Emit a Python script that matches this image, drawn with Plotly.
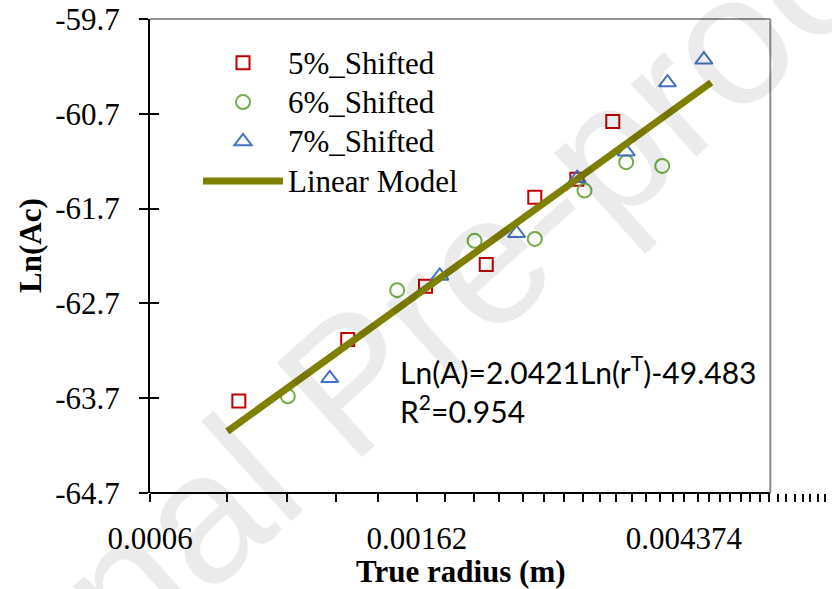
import math
import plotly.graph_objects as go

# ---- data ----
x_5 = [0.000835, 0.001252, 0.001672, 0.002096, 0.002511, 0.002936, 0.003356]
y_5 = [-63.73, -63.08, -62.52, -62.29, -61.58, -61.39, -60.78]

x_6 = [0.001002, 0.001505, 0.002007, 0.002511, 0.003021, 0.003528, 0.004034]
y_6 = [-63.68, -62.56, -62.04, -62.02, -61.51, -61.21, -61.25]

x_7 = [0.001171, 0.001763, 0.002346, 0.002940, 0.003528, 0.004114, 0.004710]
y_7 = [-63.49, -62.41, -61.96, -61.38, -61.10, -60.37, -60.13]

x_fit = [0.0008, 0.00484]
y_fit = [-64.05, -60.37]

x_tickvals = [0.0006, 0.00162, 0.004374]
x_ticktext = ["0.0006", "0.00162", "0.004374"]
y_tickvals = [-64.7, -63.7, -62.7, -61.7, -60.7, -59.7]
y_ticktext = ["-64.7", "-63.7", "-62.7", "-61.7", "-60.7", "-59.7"]

x_min, x_border, x_max = 0.0006, 0.00603, 0.007586
y_min, y_max = -64.7, -59.7

minor_vals = [round(0.0008 + 0.0002 * k, 6) for k in range(0, 34)]
minor_vals = [v for v in minor_vals if v < x_max and abs(v - 0.00162) > 0.00005 and abs(v - 0.004374) > 0.00005]

W, H = 832, 589
ML, MR, MT, MB = 150, 0, 19, 96
PW, PH = W - ML - MR, H - MT - MB

def px_to_paper_x(px):
    return (px - ML) / PW

def px_to_paper_y(py):
    return (H - MB - py) / PH

lx0, lx1 = math.log10(x_min), math.log10(x_max)
border_frac = (math.log10(x_border) - lx0) / (lx1 - lx0)

serif = "Liberation Serif"

def leg(name):
    return '<span style="font-size:31px">' + name + '</span>'

fig = go.Figure()
fig.add_trace(go.Scatter(
    x=x_5, y=y_5, mode="markers", name=leg("5%_Shifted"),
    marker=dict(symbol="square-open", size=13, color="#C00000", line=dict(width=2, color="#C00000")),
))
fig.add_trace(go.Scatter(
    x=x_6, y=y_6, mode="markers", name=leg("6%_Shifted"),
    marker=dict(symbol="circle-open", size=14, color="#70AD47", line=dict(width=2, color="#70AD47")),
))
fig.add_trace(go.Scatter(
    x=x_7, y=y_7, mode="markers", name=leg("7%_Shifted"),
    marker=dict(symbol="triangle-up-open", size=15, color="#4472C4", line=dict(width=2, color="#4472C4")),
))
fig.add_trace(go.Scatter(
    x=x_fit, y=y_fit, mode="lines", name=leg("Linear Model"),
    line=dict(color="#7F7F00", width=7),
))
fig.add_trace(go.Scatter(x=[], y=[], yaxis="y2", showlegend=False, hoverinfo="skip"))

fig.update_layout(
    width=W, height=H,
    margin=dict(l=ML, r=MR, t=MT, b=MB),
    paper_bgcolor="white", plot_bgcolor="white",
    font=dict(family=serif, size=31, color="black"),
    showlegend=True,
    legend=dict(
        x=px_to_paper_x(198), y=px_to_paper_y(38), xanchor="left", yanchor="top",
        bgcolor="rgba(0,0,0,0)", font=dict(family=serif, size=28, color="black"),
        itemwidth=80, tracegroupgap=0,
    ),
    xaxis=dict(
        type="log", range=[lx0, lx1],
        tickmode="array", tickvals=x_tickvals, ticktext=x_ticktext,
        ticks="outside", ticklen=8, tickwidth=2, tickcolor="black",
        minor=dict(tickvals=minor_vals, ticks="outside", ticklen=8, tickwidth=1.5, tickcolor="black", showgrid=False),
        showgrid=False, zeroline=False, showline=False,
        tickfont=dict(family=serif, size=31, color="black"),
        ticklabelstandoff=10,
    ),
    yaxis=dict(
        range=[y_min, y_max],
        tickmode="array", tickvals=y_tickvals, ticktext=y_ticktext,
        ticks="outside", ticklen=9, tickwidth=2, tickcolor="black",
        showgrid=False, zeroline=False, showline=True, linecolor="black", linewidth=2,
        tickfont=dict(family=serif, size=31, color="black"),
        ticklabelstandoff=13,
    ),
    yaxis2=dict(
        range=[y_min, y_max], overlaying="y", side="left", anchor="x",
        tickmode="array", tickvals=y_tickvals,
        ticks="inside", ticklen=9, tickwidth=2, tickcolor="black",
        showticklabels=False, showgrid=False, zeroline=False, showline=False,
    ),
    shapes=[
        dict(type="line", xref="paper", yref="paper", x0=0, x1=border_frac, y0=0, y1=0,
             line=dict(color="black", width=2)),
        dict(type="line", xref="paper", yref="paper", x0=0, x1=border_frac, y0=1, y1=1,
             line=dict(color="#6E6E6E", width=1.5)),
        dict(type="line", xref="paper", yref="paper", x0=border_frac, x1=border_frac, y0=0, y1=1,
             line=dict(color="#8C8C8C", width=2)),
    ],
    annotations=[
        dict(text="Journal Pre-proof", xref="paper", yref="paper",
             x=px_to_paper_x(350), y=px_to_paper_y(382), xanchor="center", yanchor="middle",
             textangle=-42, showarrow=False,
             font=dict(family="Liberation Sans", size=185, color="rgba(0,0,0,0.08)")),
        dict(text="Ln(A)=2.0421Ln(r<sup>T</sup>)-49.483<br>R<sup>2</sup>=0.954",
             xref="paper", yref="paper", x=px_to_paper_x(398), y=px_to_paper_y(389),
             xanchor="left", yanchor="middle", align="left", showarrow=False,
             font=dict(family="Lato", size=30, color="black")),
        dict(text="<b>True radius (m)</b>", xref="paper", yref="paper",
             x=px_to_paper_x(461), y=px_to_paper_y(571), xanchor="center", yanchor="middle",
             showarrow=False, font=dict(family=serif, size=31, color="black")),
        dict(text="<b>Ln(Ac)</b>", xref="paper", yref="paper",
             x=px_to_paper_x(31), y=px_to_paper_y(245), xanchor="center", yanchor="middle",
             textangle=-90, showarrow=False, font=dict(family=serif, size=31, color="black")),
    ],
)

fig.write_html("out.html")
